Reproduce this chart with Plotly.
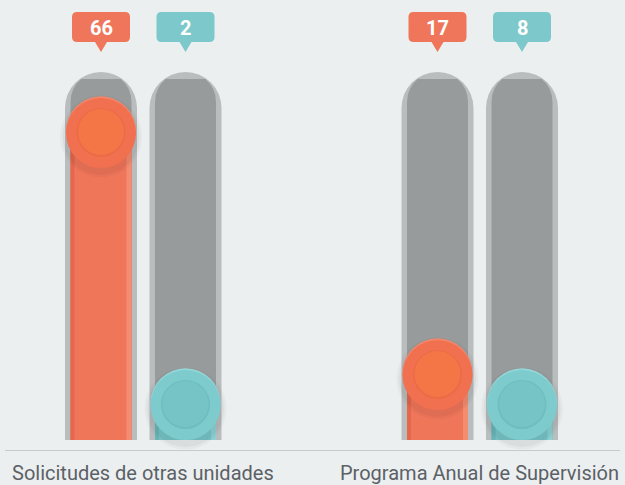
import plotly.graph_objects as go

# ---- data ----
categories = ["Solicitudes de otras unidades", "Programa Anual de Supervisión"]
serie_naranja = [66, 17]
serie_turquesa = [2, 8]

# ---- geometry / scales (style) ----
W, H = 625, 485
PLOT_H = 440
Y0 = 3.75
PPU = 4.94
Y1 = Y0 + PLOT_H / PPU
XPPU = 336.5
X0 = -143.25 / XPPU
X1 = X0 + W / XPPU


def px_to_y(py):
    return Y1 - py / PPU


def dx(px):
    return px / XPPU


def pp(py):
    return 1 - py / PLOT_H


OFF = dx(42.25)
TRACK_OUT_TOP = px_to_y(72)
TRACK_IN_TOP = px_to_y(79)
BALL_MIN = Y0 + 35.5 / PPU

BG = "#ECEFF0"
TRACK_OUT = "#B9BDBE"
TRACK_IN = "#979B9C"

styles = [
    dict(vals=serie_naranja, off=-OFF, main="#F0765A", dark="#E5684D", light="#F48C70",
         ball="#F1704F", rim="#EC6B47", inner="#F47646", bubble="#EF765A", hi="#F3866A"),
    dict(vals=serie_turquesa, off=OFF, main="#79C6C8", dark="#69B6B8", light="#8DD2D4",
         ball="#7DCBCD", rim="#6FBDBF", inner="#76C4C6", bubble="#7CC8CA", hi="#95D6D8"),
]

fig = go.Figure()
shapes = []
annotations = []
n = len(categories)

bar_traces = []
ball_traces = []
for s in styles:
    xs = [i + s["off"] for i in range(n)]
    ball_y = [max(v, BALL_MIN) for v in s["vals"]]
    bar_traces += [
        go.Bar(x=xs, y=[TRACK_OUT_TOP] * n, width=dx(72), marker=dict(color=TRACK_OUT, cornerradius=36, line=dict(width=0)), hoverinfo="skip"),
        go.Bar(x=xs, y=[TRACK_IN_TOP] * n, width=dx(61), marker=dict(color=TRACK_IN, cornerradius=30, line=dict(width=0)), hoverinfo="skip"),
        go.Bar(x=xs, y=ball_y, width=dx(61), marker=dict(color=s["main"], line=dict(width=0)), customdata=s["vals"], hovertemplate="%{customdata}<extra></extra>"),
        go.Bar(x=[x - dx(30.5) + dx(2) for x in xs], y=ball_y, width=dx(4), marker=dict(color=s["dark"], line=dict(width=0)), hoverinfo="skip"),
        go.Bar(x=[x + dx(30.5) - dx(2.5) for x in xs], y=ball_y, width=dx(5), marker=dict(color=s["light"], line=dict(width=0)), hoverinfo="skip"),
    ]
    sh_y = [y - 4 / PPU for y in ball_y]
    ball_traces += [
        go.Scatter(x=xs, y=sh_y, mode="markers", marker=dict(size=82, color="rgba(0,0,0,0.03)", line=dict(width=0)), hoverinfo="skip", cliponaxis=False),
        go.Scatter(x=xs, y=sh_y, mode="markers", marker=dict(size=77, color="rgba(0,0,0,0.045)", line=dict(width=0)), hoverinfo="skip", cliponaxis=False),
        go.Scatter(x=xs, y=[y + 1.2 / PPU for y in ball_y], mode="markers", marker=dict(size=70, color=s["hi"], line=dict(width=0)), hoverinfo="skip", cliponaxis=False),
        go.Scatter(x=xs, y=[y - 0.6 / PPU for y in ball_y], mode="markers", marker=dict(size=70, color=s["ball"], line=dict(width=0)), hoverinfo="skip", cliponaxis=False),
        go.Scatter(x=xs, y=ball_y, mode="markers", marker=dict(size=49, color=s["rim"], line=dict(width=0)), hoverinfo="skip", cliponaxis=False),
        go.Scatter(x=xs, y=[y + 0.6 / PPU for y in ball_y], mode="markers", marker=dict(size=46, color=s["inner"], line=dict(width=0)), hoverinfo="skip", cliponaxis=False),
    ]
    # bubbles
    for i, v in enumerate(s["vals"]):
        cx = xs[i]
        l, r = cx - dx(29), cx + dx(29)
        t, b, tip = pp(12), pp(42), pp(52)
        rx, ry = dx(5), 5 / PLOT_H
        path = (f"M {l+rx},{t} L {r-rx},{t} Q {r},{t} {r},{t-ry} L {r},{b+ry} Q {r},{b} {r-rx},{b} "
                f"L {cx+dx(6)},{b} L {cx},{tip} L {cx-dx(6)},{b} L {l+rx},{b} Q {l},{b} {l},{b+ry} "
                f"L {l},{t-ry} Q {l},{t} {l+rx},{t} Z")
        shapes.append(dict(type="path", xref="x", yref="paper", path=path,
                           fillcolor=s["bubble"], line=dict(width=0), layer="above"))
        annotations.append(dict(x=cx, y=pp(27.5), xref="x", yref="paper", text=f"<b>{v}</b>",
                                showarrow=False, font=dict(family="Roboto", size=20, color="white"),
                                xanchor="center", yanchor="middle"))

for tr in bar_traces + ball_traces:
    fig.add_trace(tr)

for i, c in enumerate(categories):
    annotations.append(dict(x=i, y=pp(459), xref="x", yref="paper", text=c, showarrow=False,
                            font=dict(family="Roboto", size=20, color="#5B6166"),
                            xanchor="center", yanchor="top"))

shapes.append(dict(type="line", xref="paper", yref="paper", x0=5 / W, x1=620 / W,
                   y0=pp(450.5), y1=pp(450.5), line=dict(color="#C6CACB", width=1), layer="below"))

fig.update_layout(
    width=W, height=H,
    margin=dict(l=0, r=0, t=0, b=H - PLOT_H, pad=0),
    paper_bgcolor=BG, plot_bgcolor=BG,
    barmode="overlay", showlegend=False,
    xaxis=dict(range=[X0, X1], visible=False, fixedrange=True),
    yaxis=dict(range=[Y0, Y1], visible=False, fixedrange=True),
    shapes=shapes, annotations=annotations,
)

fig.write_html("out.html", config=dict(displayModeBar=False),
               post_script="document.body.style.margin='0';document.body.style.background='#ECEFF0';document.body.style.overflow='hidden';")
